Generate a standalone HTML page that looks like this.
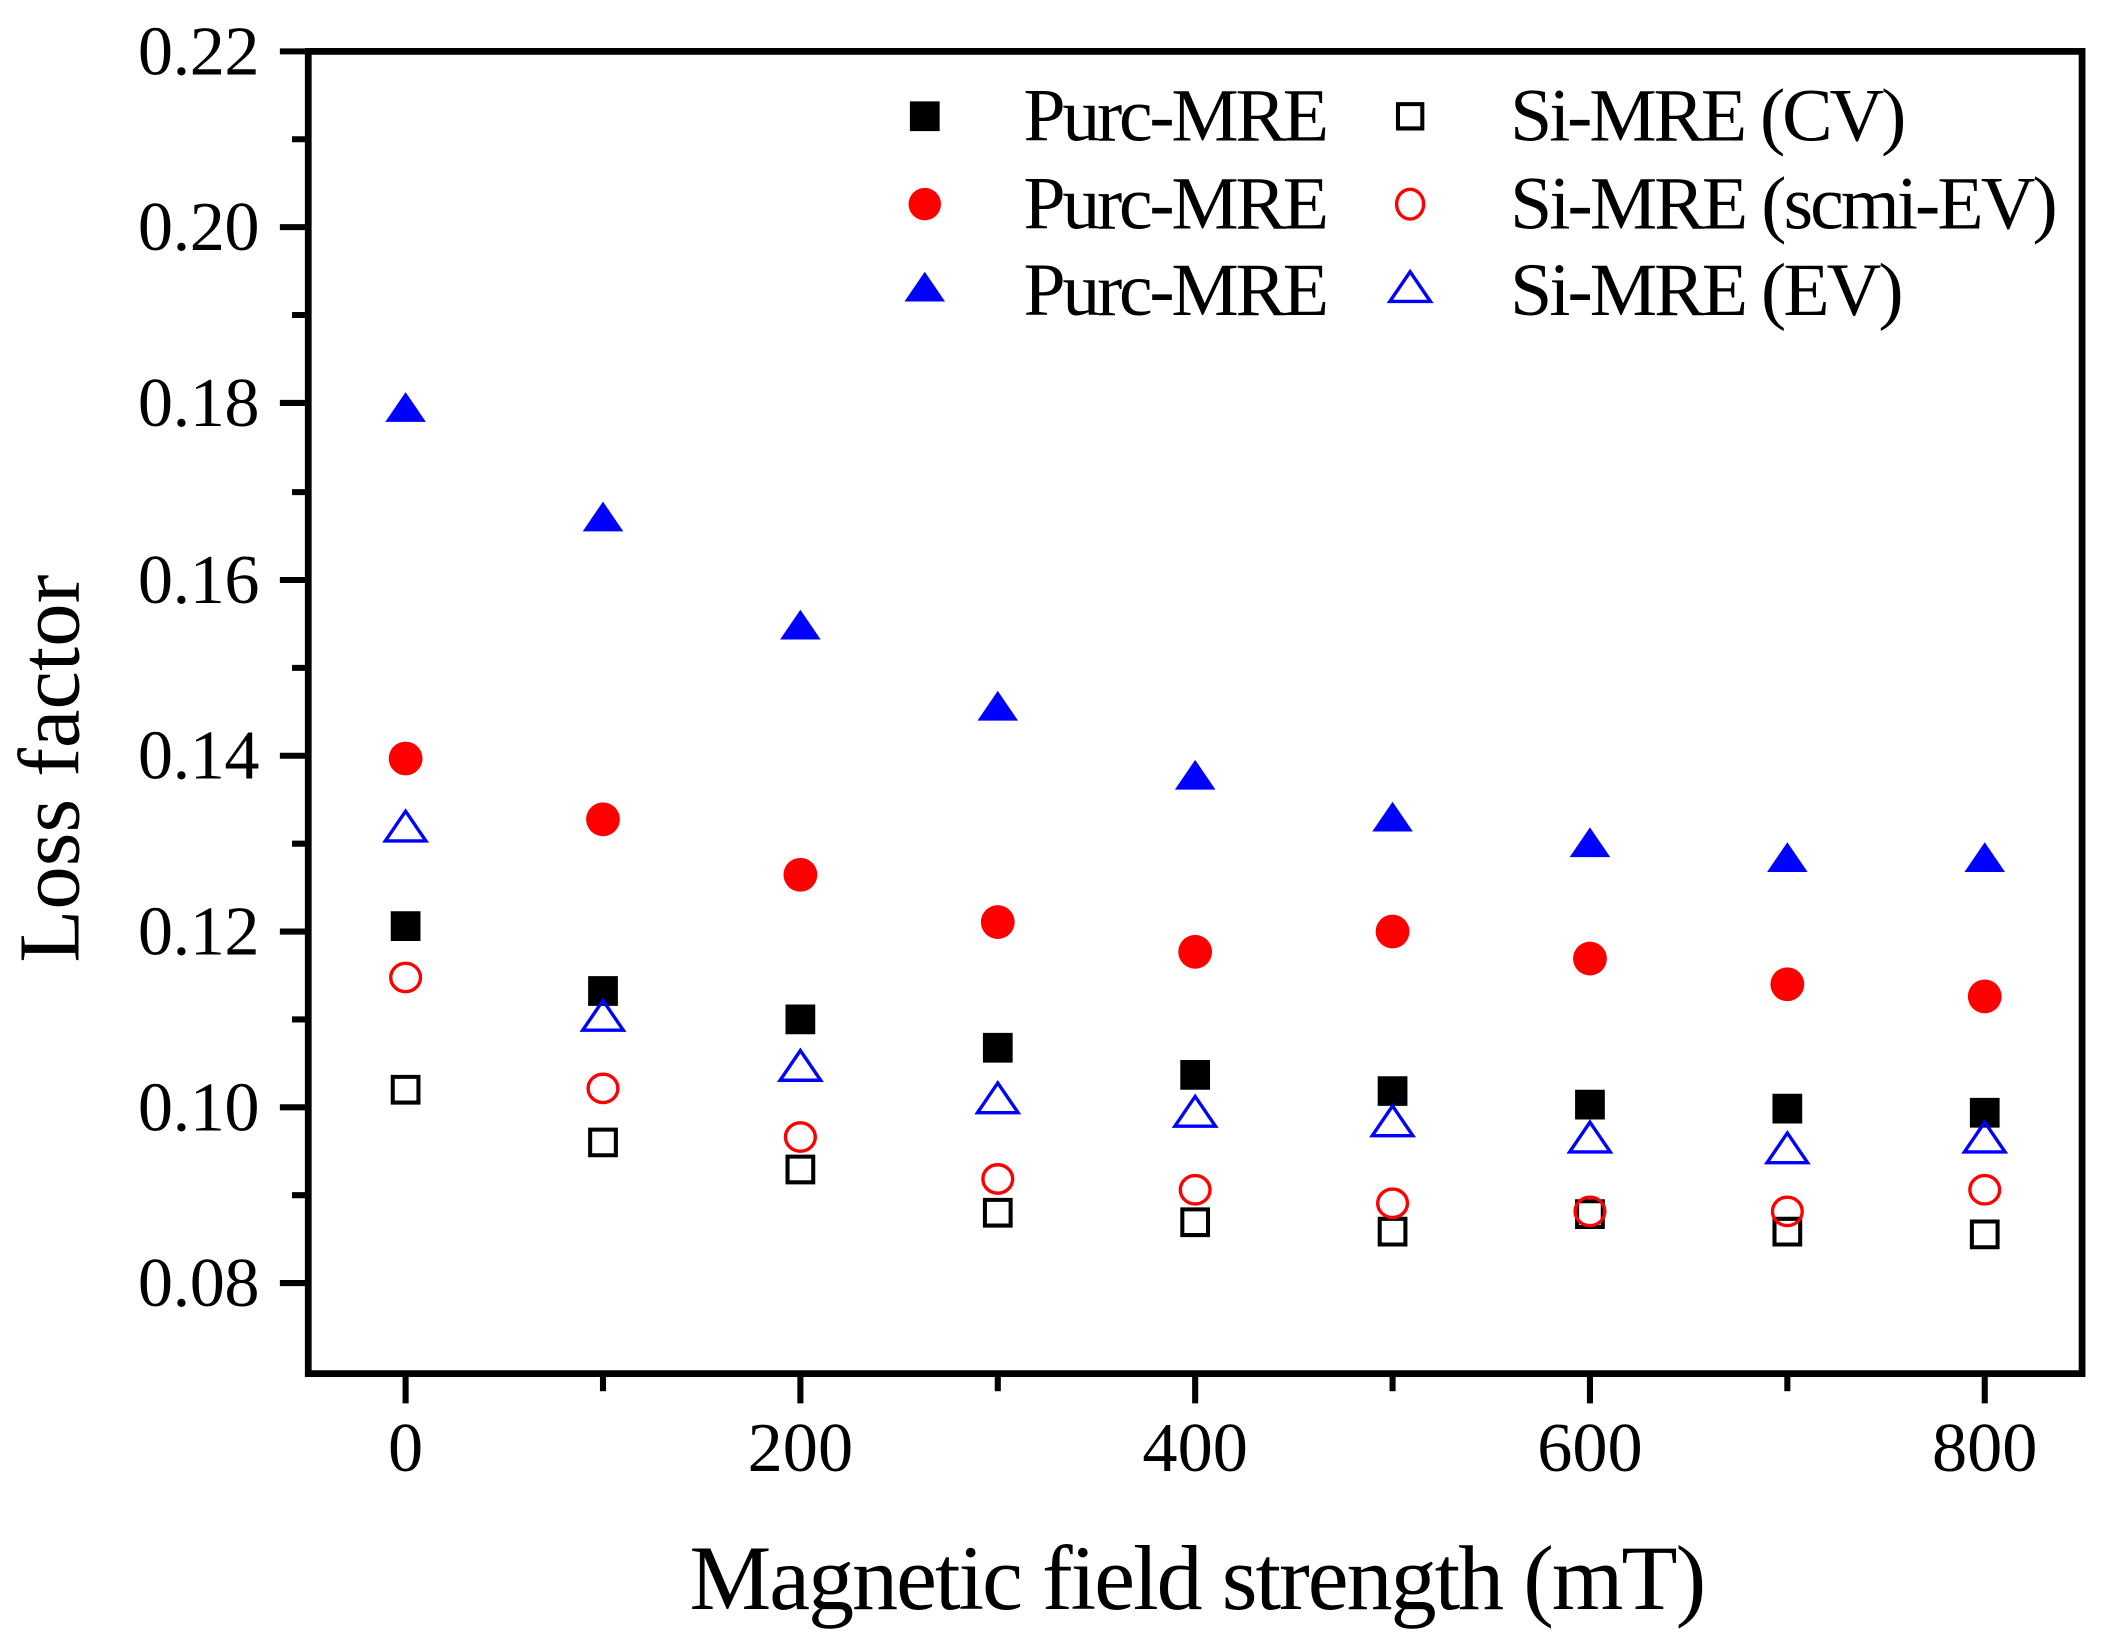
<!DOCTYPE html>
<html><head><meta charset="utf-8"><style>html,body{margin:0;padding:0;background:#fff}svg{display:block}</style></head>
<body>
<svg width="2120" height="1644" viewBox="0 0 2120 1644" xmlns="http://www.w3.org/2000/svg">
<defs>
<path id="sq" d="M-11,-11h22v22h-22z"/>
<path id="tri" d="M0,-12L15,10H-15Z"/>
</defs>
<g transform="scale(1.352)" font-family="Liberation Serif, serif" fill="#000">
<rect x="228" y="38" width="1312" height="978" fill="none" stroke="#000" stroke-width="5"/>
<g stroke="#000" stroke-width="4.5">
<line x1="207" y1="38" x2="228" y2="38"/><line x1="207" y1="168" x2="228" y2="168"/><line x1="207" y1="298" x2="228" y2="298"/><line x1="207" y1="429" x2="228" y2="429"/><line x1="207" y1="559" x2="228" y2="559"/><line x1="207" y1="689" x2="228" y2="689"/><line x1="207" y1="819" x2="228" y2="819"/><line x1="207" y1="949" x2="228" y2="949"/>
<line x1="216" y1="103" x2="228" y2="103"/><line x1="216" y1="233" x2="228" y2="233"/><line x1="216" y1="364" x2="228" y2="364"/><line x1="216" y1="494" x2="228" y2="494"/><line x1="216" y1="624" x2="228" y2="624"/><line x1="216" y1="754" x2="228" y2="754"/><line x1="216" y1="884" x2="228" y2="884"/>
<line x1="300" y1="1016" x2="300" y2="1038"/><line x1="592" y1="1016" x2="592" y2="1038"/><line x1="884" y1="1016" x2="884" y2="1038"/><line x1="1176" y1="1016" x2="1176" y2="1038"/><line x1="1468" y1="1016" x2="1468" y2="1038"/>
<line x1="446" y1="1016" x2="446" y2="1029"/><line x1="738" y1="1016" x2="738" y2="1029"/><line x1="1030" y1="1016" x2="1030" y2="1029"/><line x1="1322" y1="1016" x2="1322" y2="1029"/>
</g>
<g font-size="52" text-anchor="end">
<text x="192" y="55" textLength="90">0.22</text><text x="192" y="185" textLength="90">0.20</text><text x="192" y="315" textLength="90">0.18</text><text x="192" y="446" textLength="90">0.16</text><text x="192" y="576" textLength="90">0.14</text><text x="192" y="706" textLength="90">0.12</text><text x="192" y="836" textLength="90">0.10</text><text x="192" y="966" textLength="90">0.08</text>
</g>
<g font-size="52" text-anchor="middle">
<text x="300" y="1088">0</text><text x="592" y="1088">200</text><text x="884" y="1088">400</text><text x="1176" y="1088">600</text><text x="1468" y="1088">800</text>
</g>
<text x="510" y="1190" font-size="68" textLength="752">Magnetic field strength (mT)</text>
<text transform="translate(58,712) rotate(-90)" font-size="64" textLength="287">Loss factor</text>
<g font-size="56">
<text x="757" y="104" textLength="226">Purc-MRE</text>
<text x="757" y="169" textLength="226">Purc-MRE</text>
<text x="757" y="233" textLength="226">Purc-MRE</text>
<text x="1117" y="104" textLength="293">Si-MRE (CV)</text>
<text x="1117" y="169" textLength="405">Si-MRE (scmi-EV)</text>
<text x="1117" y="233" textLength="291">Si-MRE (EV)</text>
</g>
<use href="#sq" x="684" y="86" fill="#000"/>
<circle cx="684" cy="151" r="12" fill="#f00"/>
<use href="#tri" x="684" y="213" fill="#00f"/>
<path d="M-9,-9h18v18h-18z" transform="translate(1043,86)" fill="none" stroke="#000" stroke-width="3"/>
<ellipse cx="1043" cy="151" rx="10" ry="11" fill="none" stroke="#f00" stroke-width="2.5"/>
<use href="#tri" x="1043" y="213" fill="none" stroke="#00f" stroke-width="2.5"/>
<g fill="#000">
<use href="#sq" x="300" y="685"/><use href="#sq" x="446" y="733"/><use href="#sq" x="592" y="754"/><use href="#sq" x="738" y="775"/><use href="#sq" x="884" y="795"/><use href="#sq" x="1030" y="807"/><use href="#sq" x="1176" y="817"/><use href="#sq" x="1322" y="820"/><use href="#sq" x="1468" y="823"/>
</g>
<g fill="#f00">
<circle cx="300" cy="561" r="12.5"/><circle cx="446" cy="606" r="12.5"/><circle cx="592" cy="647" r="12.5"/><circle cx="738" cy="682" r="12.5"/><circle cx="884" cy="704" r="12.5"/><circle cx="1030" cy="689" r="12.5"/><circle cx="1176" cy="709" r="12.5"/><circle cx="1322" cy="728" r="12.5"/><circle cx="1468" cy="737" r="12.5"/>
</g>
<g fill="#00f">
<use href="#tri" x="300" y="302"/><use href="#tri" x="446" y="383"/><use href="#tri" x="592" y="463"/><use href="#tri" x="738" y="523"/><use href="#tri" x="884" y="574"/><use href="#tri" x="1030" y="605"/><use href="#tri" x="1176" y="624"/><use href="#tri" x="1322" y="635"/><use href="#tri" x="1468" y="635"/>
</g>
<g fill="none" stroke="#000" stroke-width="3">
<path d="M-9.5,-9.5h19v19h-19z" transform="translate(300,806)"/>
<path d="M-9.5,-9.5h19v19h-19z" transform="translate(446,845)"/><path d="M-9.5,-9.5h19v19h-19z" transform="translate(592,865)"/><path d="M-9.5,-9.5h19v19h-19z" transform="translate(738,897)"/><path d="M-9.5,-9.5h19v19h-19z" transform="translate(884,904)"/><path d="M-9.5,-9.5h19v19h-19z" transform="translate(1030,911)"/><path d="M-9.5,-9.5h19v19h-19z" transform="translate(1176,898)"/><path d="M-9.5,-9.5h19v19h-19z" transform="translate(1322,911)"/><path d="M-9.5,-9.5h19v19h-19z" transform="translate(1468,913)"/>
</g>
<g fill="none" stroke="#f00" stroke-width="2.5">
<ellipse cx="300" cy="723" rx="11" ry="10.5"/><ellipse cx="446" cy="805" rx="11" ry="10.5"/><ellipse cx="592" cy="841" rx="11" ry="10.5"/><ellipse cx="738" cy="872" rx="11" ry="10.5"/><ellipse cx="884" cy="880" rx="11" ry="10.5"/><ellipse cx="1030" cy="890" rx="11" ry="10.5"/><ellipse cx="1176" cy="896" rx="11" ry="10.5"/><ellipse cx="1322" cy="896" rx="11" ry="10.5"/><ellipse cx="1468" cy="880" rx="11" ry="10.5"/>
</g>
<g fill="none" stroke="#00f" stroke-width="2.5">
<use href="#tri" x="300" y="612"/><use href="#tri" x="446" y="752"/><use href="#tri" x="592" y="789"/><use href="#tri" x="738" y="813"/><use href="#tri" x="884" y="823"/><use href="#tri" x="1030" y="830"/><use href="#tri" x="1176" y="842"/><use href="#tri" x="1322" y="850"/><use href="#tri" x="1468" y="842"/>
</g>
</g>
</svg>
</body></html>
